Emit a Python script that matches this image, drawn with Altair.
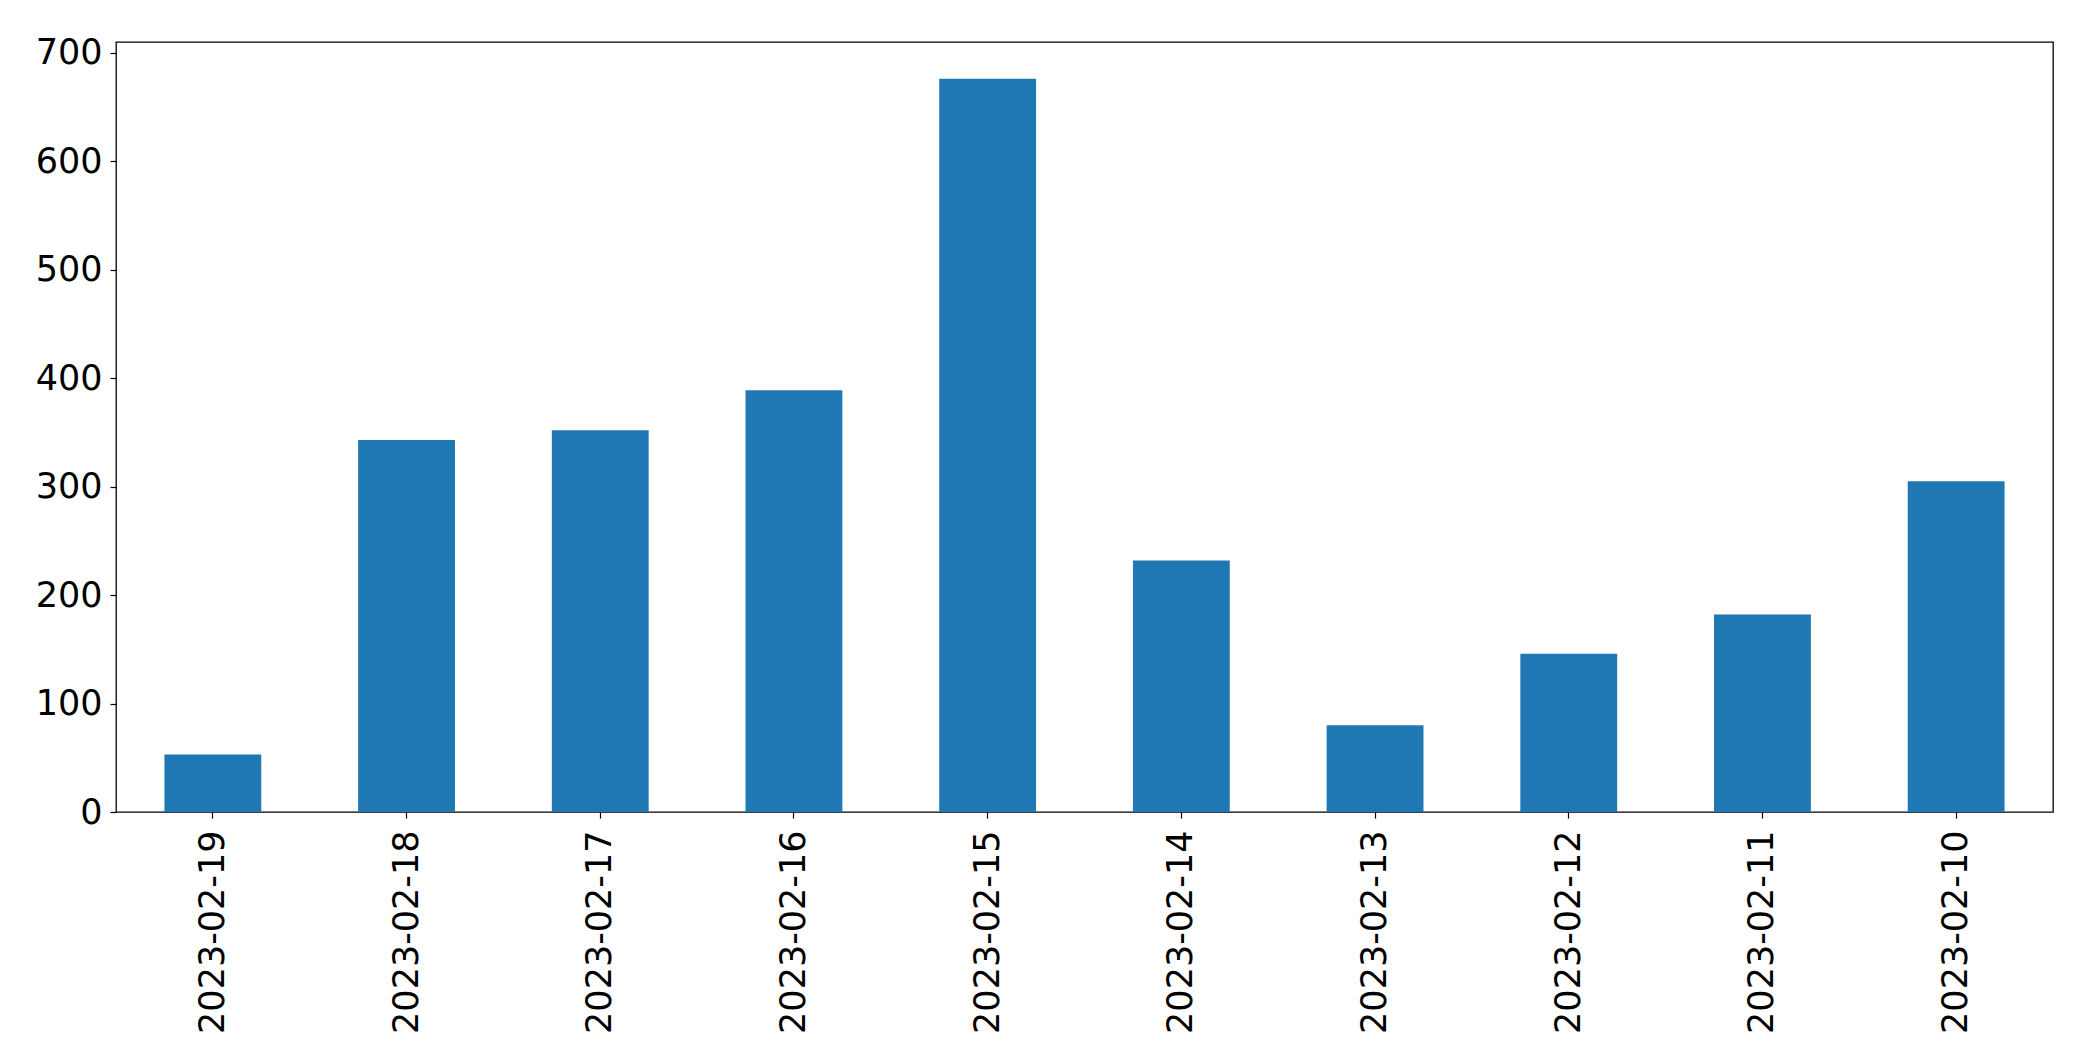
import altair as alt
import pandas as pd

dates = ["2023-02-19", "2023-02-18", "2023-02-17", "2023-02-16", "2023-02-15",
         "2023-02-14", "2023-02-13", "2023-02-12", "2023-02-11", "2023-02-10"]
counts = [53, 343, 352, 389, 676, 232, 80, 146, 182, 305]
y_ticks = [0, 100, 200, 300, 400, 500, 600, 700]

df = pd.DataFrame({"date": dates, "count": counts})

FONT = "DejaVu Sans"

chart = alt.Chart(df).mark_bar(color="#1f77b4").encode(
    x=alt.X("date:N", sort=dates, title=None,
            scale=alt.Scale(paddingInner=0.5, paddingOuter=0.25),
            axis=alt.Axis(labelAngle=270, labelFontSize=35, labelFont=FONT,
                          labelColor="black", tickColor="black", tickSize=6,
                          tickWidth=1.2, labelPadding=12, labelLimit=1000,
                          domain=False)),
    y=alt.Y("count:Q", title=None,
            scale=alt.Scale(domain=[0, 710], nice=False, zero=True),
            axis=alt.Axis(values=y_ticks, labelFontSize=35, labelFont=FONT,
                          labelColor="black", tickColor="black", tickSize=6,
                          tickWidth=1.2, labelPadding=8, labelLimit=1000,
                          grid=False, domain=False, format="d")),
).properties(
    width=1937, height=770,
    autosize=alt.AutoSizeParams(type="none"),
    padding={"left": 108, "top": 34, "right": 32, "bottom": 236},
).configure(
    background="white"
).configure_view(
    stroke="black", strokeWidth=1.3
)

chart.save("out.html", embed_options={"renderer": "svg", "actions": False})
